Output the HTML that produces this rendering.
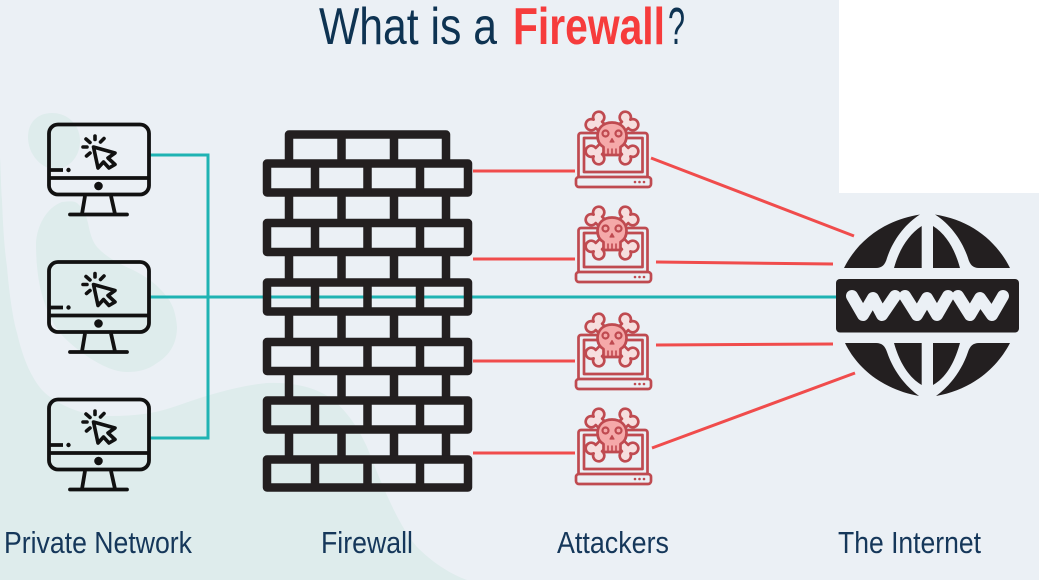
<!DOCTYPE html>
<html><head><meta charset="utf-8"><style>html,body{margin:0;padding:0;background:#ebf0f5}svg{display:block}text{font-family:"Liberation Sans",sans-serif}</style></head><body>
<svg width="1039" height="580" viewBox="0 0 1039 580" xmlns="http://www.w3.org/2000/svg">
<defs>
<g id="mon" fill="none" stroke="#111" stroke-width="3.800" stroke-linecap="round" stroke-linejoin="round">
<rect x="49" y="124.500" width="100" height="70" rx="9"/>
<path d="M49 178H149M85 196L82 214M111 196L115 214M50 170H63" stroke-linecap="butt"/>
<path d="M70 214.500H127" />
<circle cx="98.500" cy="186" r="4.300" fill="#111" stroke="none"/>
<circle cx="68.500" cy="170" r="2.200" fill="#111" stroke="none"/>
<path d="M93.500 147L115 153L108 158L115 164.500L109 168L103.500 162L98 168Z" stroke-width="3.600"/>
<path d="M95 136V139.500M100.500 142L104 138.500M86 139L90 142.500M83 147H87M86.500 156L90 153" stroke-width="3.600"/>
</g>
<path id="bone" d="M-18.500 -4.500H18.500A5.600 5.600 0 1 1 26 0A5.600 5.600 0 1 1 18.500 4.500H-18.500A5.600 5.600 0 1 1 -26 0A5.600 5.600 0 1 1 -18.500 -4.500Z"/>
<g id="lap" stroke="#bf4a50" stroke-width="2.700" stroke-linejoin="round" stroke-linecap="round">
<path d="M578.500 176V135.500a2.500 2.500 0 0 1 2.500-2.500H645a2.500 2.500 0 0 1 2.500 2.500V176" fill="none"/>
<rect x="584" y="138" width="58.500" height="34" fill="none"/>
<rect x="576" y="177" width="75" height="10" rx="3" fill="none"/>
<path d="M635 182h0M639.500 182h0M644 182h0" stroke-width="2.600"/>
<use href="#bone" transform="translate(612 138) rotate(45)" fill="#f6dede"/>
<use href="#bone" transform="translate(612 138) rotate(-45)" fill="#f6dede"/>
<path d="M612 122.500C603 122.500 597.500 128.500 597.500 136C597.500 141.500 600 145 603.500 147V155H620.500V147C624 145 626.500 141.500 626.500 136C626.500 128.500 621 122.500 612 122.500Z" fill="#f5a9a9"/>
<circle cx="605.500" cy="133.500" r="3" fill="none" stroke-width="2.200"/>
<circle cx="618.500" cy="133.500" r="3" fill="none" stroke-width="2.200"/>
<path d="M612 138.500L614 142H610Z" fill="#bf4a50" stroke-width="1.200"/>
<path d="M608 149V155M612 149V155M616 149V155" stroke-width="1.600"/>
</g>
</defs>
<rect width="1039" height="580" fill="#ebf0f5"/>
<rect x="839" width="200" height="193" fill="#fff"/>
<g fill="#deecec">
<path d="M0 157C1 175 1 190 2 200C3 225 4 245 7 267C9 290 12 315 17 333C21 350 26 365 33 377C38 386 43 392 50 397C62 406 78 412 93 415C112 417 132 416 150 413C168 410 184 403 200 398C222 391 245 385 267 383C295 382 318 388 333 400C350 414 360 432 367 447C382 485 398 525 417 547C432 562 450 574 467 580H0Z"/>
<path d="M28 137C28 122 38 113 52 113C68 113 80 125 80 141C80 156 70 168 55 170C38 167 28 152 28 137Z"/>
<path d="M62 202C71 201 74 201 77 203C83 208 86 215 88 223C90 233 92 241 97 247C107 258 120 264 133 270C147 277 158 285 167 297C174 306 176 316 177 327C177 343 170 355 157 363C148 370 138 372 127 372C115 372 103 366 93 360C80 352 69 343 60 333C50 320 44 304 40 287C37 272 36 258 36 243C37 226 46 208 62 202Z"/>
</g>
<g fill="none" stroke="#1fb3b3" stroke-width="3">
<path d="M150 155H208V438H150"/>
<path d="M150 297H836"/>
</g>
<g stroke="#f04c4c" stroke-width="3" fill="none">
<path d="M473 171H575M473 259H575M473 361H575M473 453H575"/>
<path d="M651 158L854 236M656 262L833 264M656 345L833 344M652 448L855 373"/>
</g>
<g fill="none" stroke="#231f20" stroke-width="8.500" stroke-linejoin="round">
<path d="M289 160V134.500H446V160M341.500 134V160M394 134V160"/>
<rect x="267" y="163.500" width="201" height="29"/><path d="M315 163V193M367.500 163V193M420 163V193"/>
<path d="M289 193V223M341.500 193V223M394 193V223M446 193V223"/>
<rect x="267" y="223" width="201" height="29"/><path d="M315 223V252M367.500 223V252M420 223V252"/>
<path d="M289 252V282M341.500 252V282M394 252V282M446 252V282"/>
<rect x="267" y="282.500" width="201" height="29"/><path d="M315 282V312M367.500 282V312M420 282V312"/>
<path d="M289 312V342M341.500 312V342M394 312V342M446 312V342"/>
<rect x="267" y="342" width="201" height="29"/><path d="M315 342V371M367.500 342V371M420 342V371"/>
<path d="M289 371V401M341.500 371V401M394 371V401M446 371V401"/>
<rect x="267" y="400.500" width="201" height="29"/><path d="M315 400V430M367.500 400V430M420 400V430"/>
<path d="M289 430V459M341.500 430V459M394 430V459M446 430V459"/>
<rect x="267" y="459.500" width="201" height="28"/><path d="M315 459V488M367.500 459V488M420 459V488"/>
</g>
<use href="#mon"/>
<use href="#mon" y="137.500"/>
<use href="#mon" y="275"/>
<use href="#lap"/>
<use href="#lap" y="95"/>
<use href="#lap" y="202"/>
<use href="#lap" y="297"/>
<g fill="#231f20">
<path d="M844 268C858 240 885 220 920 214.500C905 224 893 240 887 258C885 265 882 268 876 268Z"/>
<path d="M894 268C899 250 908 235 921.700 226V268Z"/>
<path d="M933 226C947 235 955 250 960 268H933Z"/>
<path d="M935 214.500C970 220 996 240 1010 268H979C973 268 970 265 968 258C962 240 950 224 935 214.500Z"/>
<path d="M845 343C858 370 885 390 919 396C905 386 893 370 887 352C885 346 882 343 876 343Z"/>
<path d="M894 343C899 361 908 377 921.700 385V343Z"/>
<path d="M933 385C947 377 955 361 960 343H933Z"/>
<path d="M936 396C970 390 996 370 1010 343H979C973 343 970 346 968 352C962 370 950 386 936 396Z"/>
<rect x="836" y="279" width="183" height="53.500" rx="4"/>
</g>
<path d="M852 296L863 315L873 298L882 315L895 296M905 296L917 315L927 298L937 315L948 296M958 296L970 315L980 298L992 315L1003 296" fill="none" stroke="#ebf0f5" stroke-width="12" stroke-linecap="round" stroke-linejoin="round"/>
<text x="319" y="44" font-size="52" fill="#0e3352" textLength="178" lengthAdjust="spacingAndGlyphs">What is a</text>
<text x="513" y="44" font-size="52" font-weight="700" fill="#f63c3c" textLength="152" lengthAdjust="spacingAndGlyphs">Firewall</text>
<text x="668" y="44" font-size="52" fill="#0e3352" textLength="17" lengthAdjust="spacingAndGlyphs">?</text>
<g font-size="31" fill="#15375a">
<text x="4" y="553" textLength="188" lengthAdjust="spacingAndGlyphs">Private Network</text>
<text x="321" y="553" textLength="92" lengthAdjust="spacingAndGlyphs">Firewall</text>
<text x="557" y="553" textLength="112" lengthAdjust="spacingAndGlyphs">Attackers</text>
<text x="838" y="553" textLength="143" lengthAdjust="spacingAndGlyphs">The Internet</text>
</g>
</svg>
</body></html>
